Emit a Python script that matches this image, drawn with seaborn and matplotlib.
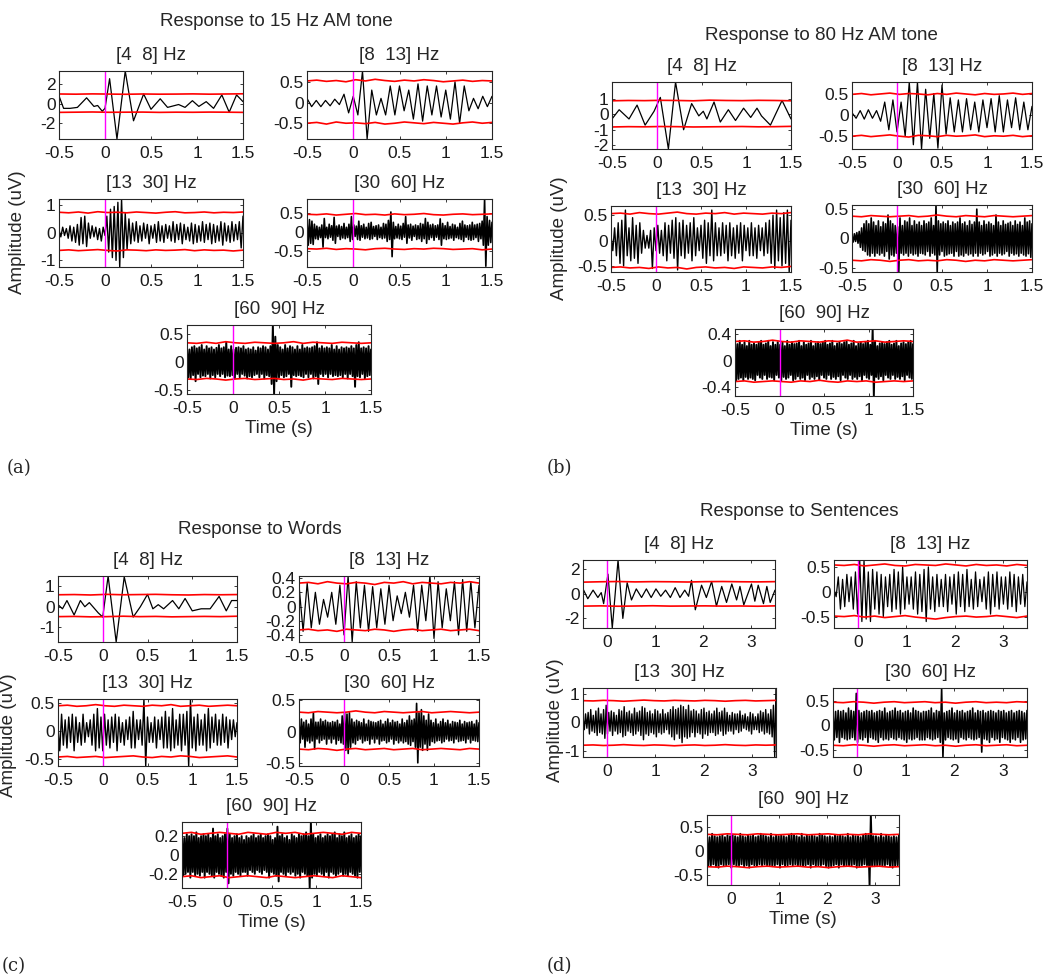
import numpy as np
import matplotlib
matplotlib.use("Agg")
import matplotlib.pyplot as plt
import seaborn as sns

# ---------------- data ----------------
# values of the uniform-step traces are in hundredths of uV
band_titles = ["[4  8] Hz", "[8  13] Hz", "[13  30] Hz", "[30  60] Hz", "[60  90] Hz"]
panel_titles = ["Response to 15 Hz AM tone", "Response to 80 Hz AM tone",
                "Response to Words", "Response to Sentences"]
panel_tags = ["(a)", "(b)", "(c)", "(d)"]

# (a) 15 Hz AM tone
a1_t = [-0.5, -0.45, -0.38, -0.3, -0.2, -0.12, -0.08, -0.03, 0.0, 0.05, 0.13, 0.22, 0.31, 0.42,
        0.5, 0.6, 0.68, 0.8, 0.87, 0.95, 1.02, 1.1, 1.18, 1.27, 1.35, 1.43, 1.5]
a1_v = [0.8, -0.5, -0.5, -0.4, 0.6, -0.3, -0.2, -0.8, -0.5, 2.6, -3.7, 3.4, -1.8, 1.0,
        -0.6, 0.5, -0.4, -0.1, -0.4, 0.3, -0.3, 0.2, -0.5, 0.9, -0.9, 0.9, 0.2]
a2_v = [10, -10, 5, -10, 5, -8, 8, -5, 20, -25, 15, -30, 76, -88, 30, -30, 10, -30, 40, -30,
        40, -20, 30, -40, 45, -45, 40, -30, 40, -35, 30, -40, 50, -50, 40, -20, 10, -15, 15, -10, 15]
a3_v = [10, -15, 20, -10, 15, -20, 25, -30, 20, -35, 30,
        -45, 55, -40, 60, -50, 35, -20, 25, -15, 20,
        -25, 15, -30, 20, -10,
        60, -70, 85, -90, 95, -100, 110, -124, 122, -90, 70, -60, 50, -40, 35,
        -30, 40, -35, 25, -30, 35, -20, 30, -40, 25, -20, 30, -35, 40, -30, 25, -35, 30, -20, 25,
        -30, 40, -35, 30, -25, 35, -40, 30, -25, 20, -30, 35, -40, 30, -35, 25, -30, 40, -35, 30,
        -25, 35, -40, 30, -35, 25, -30, 40, -45, 35, -30, 25, -35, 40, -30, 30, -25, 40, -55, 60]
a4_v = [30, -35, 32, -30, 28, -33, 20, -18, 15, -20, 12, -15, 18, -40, 35,
        -15, 12, -18, 20, -14, 16, -22, 38, -30, 15, -12, 18, -20, 14, -16,
        22, -18, 12, -15, 20, -25, 40, -20, 18, -12, 15, -20, 28, -22, 16,
        -14, 20, -18, 12, -16, 22, -20, 25, -18, 14, -12, 16, -20, 18, -15,
        12, -18, 22, -16, 20, -25, 30, -20, 52, -65, 25, -18, 14, -16, 20,
        -18, 15, -20, 22, -14, 40, -30, 18, -16, 20, -22, 15, -12, 18, -20,
        16, -18, 22, -25, 20, -18, 35, -30, 25, -20, 18, -15, 20, -22, 16,
        -14, 18, -20, 34, -35, 22, -18, 16, -20, 25, -18, 14, -16, 20, -22,
        18, -15, 12, -18, 22, -20, 28, -25, 18, -14, 16, -20, 18, -22, 25,
        -20, 18, -15, 20, -25, 22, -18, 28, -35, 86, -90, 40, -35, 30, -28, 25]
a5_v = [25, -28, 22, -30, 26, -24, 28, -35, 24, -22, 26, -28, 30, -25, 22,
        -26, 28, -22, 24, -30, 26, -24, 22, -28, 25, -22, 30, -26, 24, -22,
        26, -28, 35, -25, 22, -26, 28, -24, 22, -30, 25, -22, 26, -28, 24,
        -22, 28, -25, 22, -30, 24, -26, 22, -28, 26, -24, 20, -22, 26, -28,
        24, -22, 28, -30, 26, -24, 22, -26, 28, -40, 66, -58, 45, -35, 30,
        -28, 26, -24, 22, -28, 30, -26, 24, -22, 28, -45, 26, -24, 22, -26,
        28, -24, 22, -26, 30, -28, 24, -22, 26, -28, 24, -22, 26, -30, 28,
        -26, 35, -40, 24, -22, 28, -26, 24, -22, 26, -28, 24, -22, 30, -26,
        22, -24, 28, -26, 22, -24, 26, -28, 24, -22, 26, -30, 24, -22, 28,
        -26, 24, -45, 30, -26, 35, -28, 24, -22, 26, -30, 24, -26, 28, -24, 22]
a1_up = [100, 98, 101, 99, 97, 100, 98, 99, 101, 98, 100, 102]
a1_lo = [-92, -90, -88, -91, -90, -89, -92, -90, -91, -89, -90, -92]
a2_up = [52, 54, 51, 53, 50, 55, 52, 56, 53, 51, 54, 52, 55, 53, 50, 52, 54, 51, 53, 52]
a2_lo = [-50, -48, -52, -47, -50, -49, -51, -48, -52, -50, -47, -49, -51, -48, -50, -52, -49, -47, -50, -48]
a3_up = [74, 72, 75, 71, 76, 73, 74, 72, 75, 73, 71, 74, 76, 72, 73, 75, 72, 74, 73, 75]
a3_lo = [-64, -62, -65, -63, -61, -64, -66, -62, -63, -65, -62, -64, -63, -61, -65, -62, -64, -63, -66, -63]
a4_up = [46, 45, 47, 44, 46, 48, 45, 46, 44, 47, 45, 46, 48, 45, 44, 46, 47, 45, 46, 47]
a4_lo = [-44, -45, -43, -46, -44, -45, -47, -44, -43, -45, -46, -44, -45, -43, -44, -46, -45, -44, -47, -45]
a5_up = [34, 33, 35, 33, 36, 34, 33, 35, 34, 33, 34, 36, 33, 35, 34, 33, 35, 34, 33, 34]
a5_lo = [-31, -32, -30, -31, -33, -31, -30, -32, -31, -30, -32, -31, -33, -30, -31, -32, -30, -31, -32, -31]

# (b) 80 Hz AM tone
b1_t = [-0.5, -0.42, -0.31, -0.22, -0.13, -0.03, 0.04, 0.13, 0.21, 0.3, 0.39, 0.47, 0.52,
        0.56, 0.64, 0.71, 0.8, 0.88, 0.97, 1.05, 1.12, 1.17, 1.27, 1.4, 1.5]
b1_v = [-0.3, 0.3, -0.3, 0.6, -0.7, 0.2, 1.1, -2.25, 2.1, -1.0, 0.7, -0.1, 0.2,
        -0.3, 0.8, -0.5, 0.3, -0.4, 0.4, -0.2, 0.4, -0.1, -0.7, 0.9, -0.3]
b2_v = [5, -8, 10, -10, 12, -8, 10, -15, 30, -35, 35, -40, 30, -50, 77, -70, 77, -80, 60, -55,
        50, -78, 70, -45, 40, -40, 35, -40, 38, -35, 30, -40, 35, -30, 38, -40, 45, -40, 35, -30,
        40, -35, 30, -35, 20]
b3_v = [10, -20, 25, -30, 35, -45, 40, -50, 60, -30,
        25, -40, 45, -35, 30, -45, 35, -25, 20, -15,
        10, -15, 20, -55, 25, -20, 30, -25, 20, -30,
        35, -40, 30, -25, 40, -35, 45, -58, 35, -30,
        40, -35, 30, -25, 35, -40, 45, -30, 25, -20,
        30, -35, 40, -45, 35, -30, 60, -40, 35, -30,
        25, -30, 35, -25, 30, -40, 35, -30, 25, -35,
        30, -25, 35, -40, 30, -20, 25, -30, 35, -30,
        25, -35, 30, -20, 25, -30, 35, -25, 40, -45,
        50, -55, 60, -40, 45, -50, 55, -45, 60, -62, 40]
b4_v = [5, -6, 8, -5, 10, -8, 12, -15, 18, -20, 25, -22, 30, -28, 25,
        -30, 35, -25, 28, -30, 22, -25, 30, -28, 20, -25, 28, -30, 25, -22,
        40, -35, 30, -28, 25, -30, 22, -25, 20, -57, 35, -25, 22, -28, 30,
        -25, 28, -30, 35, -25, 22, -28, 30, -26, 24, -30, 28, -25, 22, -26,
        30, -28, 25, -22, 28, -30, 35, -25, 22, -28, 57, -57, 30, -28, 25,
        -22, 28, -30, 25, -28, 30, -26, 22, -25, 28, -30, 25, -22, 28, -30,
        35, -28, 25, -30, 28, -25, 22, -28, 30, -26, 24, -30, 28, -25, 50,
        -30, 28, -25, 22, -28, 30, -26, 24, -22, 28, -30, 25, -28, 22, -25,
        40, -30, 28, -25, 22, -28, 30, -26, 24, -22, 26, -30, 28, -25, 22,
        -28, 30, -26, 24, -30, 28, -25, 22, -28, 35, -30, 28, -26, 30, -32, 25]
b5_v = [28, -30, 25, -28, 30, -26, 24, -30, 28, -25, 22, -28, 30, -26, 24,
        -28, 26, -30, 24, -22, 28, -26, 30, -28, 24, -22, 26, -28, 30, -25,
        22, -26, 28, -30, 24, -22, 28, -26, 24, -30, 28, -25, 22, -28, 30,
        -26, 24, -22, 28, -30, 25, -28, 26, -24, 30, -28, 22, -26, 28, -30,
        24, -22, 26, -28, 30, -25, 22, -28, 26, -24, 28, -30, 25, -22, 28,
        -26, 30, -28, 24, -22, 26, -28, 30, -25, 22, -28, 26, -24, 28, -30,
        25, -22, 28, -26, 30, -28, 24, -22, 26, -28, 30, -25, 22, -28, 26,
        -24, 28, -30, 25, -22, 28, -26, 30, -28, 24, -22, 48, -54, 30, -25,
        22, -28, 26, -24, 28, -30, 25, -22, 28, -26, 30, -28, 24, -22, 26,
        -28, 30, -25, 22, -28, 26, -24, 28, -30, 25, -22, 28, -26, 30, -28, 25]
b1_up = [88, 90, 89, 91, 90, 88, 92, 90, 89, 91, 90, 88]
b1_lo = [-82, -80, -81, -79, -80, -82, -81, -80, -79, -81, -80, -78]
b2_up = [48, 50, 47, 49, 51, 48, 50, 49, 47, 50, 48, 51, 49, 47, 50, 48, 49, 51, 48, 50]
b2_lo = [-50, -48, -51, -49, -47, -50, -52, -48, -49, -51, -48, -50, -49, -47, -51, -49, -50, -48, -51, -49]
b3_up = [53, 54, 52, 55, 53, 52, 54, 56, 53, 52, 54, 53, 55, 52, 54, 53, 52, 54, 53, 55]
b3_lo = [-53, -52, -54, -53, -55, -52, -54, -53, -56, -53, -52, -54, -53, -55, -52, -53, -54, -52, -53, -51]
b4_up = [38, 37, 39, 38, 37, 38, 39, 37, 38, 40, 38, 37, 39, 38, 37, 39, 38, 37, 38, 39]
b4_lo = [-37, -38, -36, -37, -39, -37, -36, -38, -37, -38, -36, -37, -39, -37, -38, -36, -37, -38, -37, -36]
b5_up = [29, 30, 28, 29, 31, 29, 28, 30, 29, 28, 30, 29, 31, 28, 29, 30, 28, 29, 30, 29]
b5_lo = [-32, -31, -33, -32, -31, -32, -33, -31, -32, -30, -32, -33, -31, -32, -31, -33, -32, -31, -32, -31]

# (c) Words
c1_t = [-0.5, -0.45, -0.4, -0.32, -0.25, -0.2, -0.15, -0.05, 0.0, 0.06, 0.15, 0.24, 0.34, 0.42,
        0.5, 0.56, 0.62, 0.68, 0.78, 0.85, 0.92, 1.0, 1.1, 1.2, 1.3, 1.38, 1.44, 1.5]
c1_v = [0.1, -0.1, 0.3, -0.4, 0.3, 0.0, 0.2, -0.3, -0.5, 1.49, -1.71, 1.45, -0.5, 0.0,
        0.6, -0.1, 0.1, -0.1, 0.3, -0.1, 0.4, -0.2, -0.1, -0.1, 0.5, -0.2, 0.3, 0.3]
c2_v = [30, -35, 33, -30, 20, -25, 10, -15, 20, -25, 30, -40, 43, -50, 35, -30, 30, -35, 28, -30,
        25, -25, 30, -20, 15, -10, 20, -15, 30, -35, 30, -20, 43, -45, 35, -30, 25, -20, 35, -40,
        38, -35, 35, -30, 30]
c3_v = [10, -35, 30, -25, 20, -30, 25, -20, 30, -35,
        25, -20, 15, -25, 30, -20, 15, -10, 20, -25,
        30, -35, 40, -30, 25, -35, 30, -25, 20, -30,
        25, -20, 30, -35, 25, -20, 15, -25, 20, -15,
        25, -30, 35, -30, 20, -15, 20, -25, 57, -62,
        25, -20, 15, -20, 25, -30, 20, -15, 25, -30,
        35, -30, 25, -35, 40, -30, 20, -25, 30, -35,
        30, -25, 35, -62, 57, -30, 25, -35, 30, -25,
        20, -25, 30, -35, 40, -30, 25, -20, 30, -25,
        20, -25, 30, -20, 25, -30, 20, -15, 20, -10, 15]
c4_v = [15, -18, 20, -12, 15, -25, 18, -15, 12, -18, 20, -15, 30, -28, 15,
        -12, 15, -18, 20, -14, 16, -12, 18, -20, 15, -12, 14, -18, 16, -12,
        15, -20, 18, -14, 12, -18, 25, -20, 30, -30, 28, -35, 30, -25, 20,
        -18, 15, -20, 18, -14, 16, -12, 14, -18, 20, -15, 12, -14, 18, -20,
        16, -12, 15, -18, 14, -12, 16, -20, 18, -15, 12, -14, 16, -18, 20,
        -16, 14, -12, 18, -20, 15, -14, 16, -18, 12, -15, 20, -18, 14, -16,
        18, -20, 25, -22, 18, -16, 20, -25, 45, -50, 30, -25, 35, -30, 25,
        -20, 18, -30, 28, -22, 18, -16, 14, -18, 20, -15, 12, -14, 16, -18,
        20, -16, 14, -12, 18, -15, 12, -14, 16, -18, 15, -12, 14, -16, 18,
        -15, 12, -14, 16, -18, 14, -12, 15, -18, 16, -14, 12, -15, 18, -16, 14]
c5_v = [20, -22, 18, -20, 22, -18, 20, -24, 22, -18, 20, -22, 24, -20, 18,
        -22, 20, -18, 22, -24, 20, -18, 22, -20, 18, -22, 28, -24, 20, -18,
        22, -20, 18, -22, 20, -24, 22, -18, 28, -30, 22, -20, 18, -22, 20,
        -18, 22, -20, 18, -22, 20, -18, 16, -18, 20, -22, 18, -16, 20, -18,
        22, -20, 18, -16, 20, -18, 22, -20, 18, -16, 20, -18, 22, -24, 20,
        -18, 16, -20, 18, -22, 30, -28, 20, -18, 22, -20, 18, -22, 20, -18,
        16, -20, 22, -18, 20, -22, 18, -20, 22, -24, 20, -18, 22, -20, 24,
        -22, 20, -35, 35, -24, 22, -20, 18, -22, 20, -18, 22, -20, 18, -22,
        20, -18, 22, -24, 20, -18, 22, -20, 24, -22, 18, -20, 22, -18, 20,
        -22, 24, -20, 18, -22, 20, -18, 22, -20, 18, -22, 20, -24, 22, -18, 20]
c1_up = [58, 59, 57, 60, 58, 59, 60, 58, 57, 59, 58, 59]
c1_lo = [-48, -47, -49, -48, -46, -48, -47, -49, -48, -47, -48, -46]
c2_up = [33, 34, 32, 35, 33, 32, 34, 33, 31, 34, 33, 35, 32, 34, 33, 32, 34, 33, 35, 33]
c2_lo = [-33, -32, -34, -33, -35, -32, -33, -34, -32, -33, -35, -33, -32, -34, -33, -32, -34, -33, -32, -34]
c3_up = [45, 46, 44, 45, 47, 45, 44, 46, 45, 44, 46, 45, 47, 44, 45, 46, 44, 45, 46, 45]
c3_lo = [-46, -45, -47, -46, -45, -47, -46, -45, -44, -46, -47, -45, -46, -44, -45, -47, -46, -45, -44, -46]
c4_up = [31, 30, 32, 31, 30, 31, 33, 31, 30, 32, 31, 30, 31, 32, 30, 31, 32, 31, 30, 31]
c4_lo = [-28, -29, -27, -28, -30, -28, -27, -29, -28, -27, -29, -28, -27, -29, -28, -27, -28, -29, -27, -28]
c5_up = [23, 24, 22, 23, 24, 23, 22, 24, 23, 22, 24, 23, 24, 22, 23, 24, 23, 22, 24, 23]
c5_lo = [-23, -22, -24, -23, -22, -24, -23, -22, -23, -24, -22, -23, -24, -23, -22, -23, -24, -22, -23, -24]

# (d) Sentences
d1_t = [-0.5, -0.4, -0.29, -0.19, -0.12, -0.07, 0.02, 0.11, 0.23, 0.33, 0.42, 0.51, 0.61, 0.72,
        0.82, 0.92, 1.02, 1.12, 1.22, 1.32, 1.42, 1.52, 1.62, 1.7, 1.76, 1.84, 1.97, 2.07, 2.18,
        2.28, 2.39, 2.49, 2.6, 2.7, 2.77, 2.85, 3.01, 3.08, 3.15, 3.26, 3.33, 3.4, 3.5]
d1_v = [0.4, -0.4, 0.3, -0.3, 0.1, -0.8, 1.6, -2.78, 2.75, -2.0, 0.9, -0.5, 0.4, -0.3,
        0.4, -0.3, 0.4, -0.2, 0.3, -0.3, 0.5, -0.3, 0.3, -0.2, 1.1, -1.3, 0.7, -0.3, 1.0,
        -1.0, 0.6, -0.7, 0.8, -0.5, 0.6, -0.9, 0.8, -0.6, 0.7, -0.8, 0.6, -0.7, 0.3]
d2_v = [5, -10, 30, -35, 25, -30, 35, -20, 30, -35,
        40, -45, 64, -60, 64, -55, 40, -60, 45, -35,
        40, -45, 35, -50, 30, -30, 35, -40, 45, -35,
        40, -45, 50, -35, 30, -25, 30, -35, 40, -45,
        35, -40, 45, -60, 50, -35, 30, -40, 35, -30,
        25, -30, 35, -40, 30, -25, 35, -45, 40, -30,
        35, -40, 45, -30, 25, -35, 40, -30, 25, -20,
        30, -35, 40, -45, 35, -30, 40, -35, 30, -25,
        30, -35, 40, -30, 35, -40, 30, -25, 35, -30, 20]
d3_v = [20, -25, 30, -20, 35, -40, 45, -30, 25, -35, 40, -45, 50, -35, 30,
        -40, 45, -55, 60, -40, 35, -30, 40, -45, 35, -30, 25, -40, 45, -35,
        40, -50, 55, -45, 35, -30, 40, -35, 30, -45, 50, -40, 35, -30, 40,
        -45, 55, -60, 50, -40, 35, -45, 40, -35, 30, -40, 45, -50, 40, -35,
        30, -40, 45, -35, 30, -25, 35, -40, 45, -50, 55, -60, 45, -40, 50,
        -55, 60, -70, 55, -50, 45, -55, 60, -50, 40, -35, 45, -50, 40, -35,
        30, -40, 45, -55, 50, -40, 35, -45, 40, -35, 30, -35, 40, -45, 50,
        -40, 35, -30, 40, -45, 50, -40, 35, -30, 25, -30, 35, -40, 30, -25,
        30, -35, 40, -30, 25, -20, 30, -25, 20, -30, 35, -40, 30, -25, 20,
        -25, 30, -35, 40, -30, 35, -40, 45, -35, 30, -40, 45, -50, 60, -120, 120]
d4_v = [25, -30, 28, -25, 30, -35, 28, -25, 30, -28, 25, -30, 35, -28, 30,
        -25, 28, -30, 65, -35, 30, -28, 25, -30, 28, -25, 30, -35, 28, -25,
        30, -28, 25, -30, 28, -35, 30, -25, 28, -30, 35, -28, 25, -30, 28,
        -25, 30, -28, 35, -30, 28, -25, 30, -28, 25, -30, 28, -35, 30, -28,
        25, -30, 35, -28, 30, -25, 28, -30, 25, -30, 28, -30, 28, -25, 30,
        -28, 35, -30, 25, -28, 30, -25, 28, -35, 76, -65, 25, -30, 28, -25,
        30, -28, 35, -30, 25, -28, 30, -35, 28, -25, 30, -28, 25, -30, 28,
        -25, 30, -28, 35, -30, 25, -28, 30, -25, 28, -55, 30, -28, 25, -30,
        28, -35, 30, -25, 28, -30, 25, -28, 30, -35, 28, -25, 30, -28, 25,
        -30, 28, -35, 30, -28, 25, -30, 28, -25, 30, -35, 28, -30, 25, -28, 30]
d5_v = [30, -32, 28, -30, 35, -28, 30, -32, 28, -35, 30, -28, 32, -30, 28,
        -30, 32, -28, 30, -35, 32, -28, 30, -32, 28, -30, 35, -28, 30, -32,
        28, -30, 32, -35, 30, -28, 32, -30, 28, -32, 30, -28, 35, -30, 32,
        -28, 30, -32, 28, -30, 35, -32, 28, -30, 32, -28, 30, -35, 32, -28,
        30, -32, 28, -30, 32, -28, 35, -30, 32, -28, 30, -32, 28, -30, 35,
        -32, 28, -30, 32, -28, 30, -35, 32, -28, 30, -32, 28, -30, 35, -30,
        32, -28, 30, -32, 28, -35, 30, -32, 28, -30, 32, -28, 30, -35, 32,
        -28, 30, -32, 28, -30, 35, -32, 28, -30, 32, -28, 30, -35, 30, -32,
        28, -30, 32, -28, 35, -30, 32, -71, 74, -32, 30, -32, 30, -32, 28,
        -30, 35, -32, 28, -30, 32, -28, 30, -32, 28, -35, 30, -32, 28, -30, 32]
d1_up = [95, 98, 100, 97, 99, 98, 96, 99, 100, 98, 97, 99]
d1_lo = [-100, -98, -101, -99, -97, -100, -99, -98, -100, -99, -101, -98]
d2_up = [54, 53, 55, 52, 54, 56, 53, 52, 55, 54, 53, 56, 54, 52, 55, 53, 54, 52, 55, 53]
d2_lo = [-49, -50, -48, -51, -49, -52, -50, -48, -51, -53, -55, -52, -50, -49, -51, -50, -48, -50, -52, -49]
d3_up = [76, 75, 77, 76, 74, 76, 78, 76, 75, 77, 76, 75, 77, 76, 74, 76, 77, 75, 76, 77]
d3_lo = [-79, -78, -80, -79, -77, -79, -80, -78, -79, -81, -79, -78, -80, -79, -77, -79, -80, -78, -79, -78]
d4_up = [47, 46, 48, 47, 45, 47, 48, 46, 47, 48, 46, 47, 45, 47, 48, 46, 47, 46, 48, 47]
d4_lo = [-41, -42, -40, -41, -43, -41, -40, -42, -41, -40, -42, -41, -43, -41, -40, -42, -41, -40, -42, -41]
d5_up = [34, 33, 35, 34, 33, 35, 34, 33, 34, 35, 33, 34, 35, 33, 34, 33, 35, 34, 33, 34]
d5_lo = [-33, -34, -32, -33, -35, -33, -32, -34, -33, -32, -34, -33, -35, -33, -32, -34, -33, -32, -34, -33]

# ---------------- figure ----------------
W, H = 1047, 977
sns.set_theme(style="ticks")
plt.rcParams["font.family"] = ["Liberation Sans", "DejaVu Sans"]
plt.rcParams.update({
    "axes.linewidth": 0.8, "axes.edgecolor": "#262626",
    "xtick.direction": "in", "ytick.direction": "in",
    "xtick.major.size": 2.5, "ytick.major.size": 2.5,
    "xtick.major.width": 0.6, "ytick.major.width": 0.6,
    "xtick.top": True, "ytick.right": True,
    "xtick.labelsize": 12.5, "ytick.labelsize": 12.5,
    "xtick.major.pad": 5.0, "ytick.major.pad": 2.5,
    "xtick.color": "#1a1a1a", "ytick.color": "#1a1a1a",
})
fig = plt.figure(figsize=(W / 100, H / 100), dpi=100)
FS = 13.5
LW = [0.9, 0.9, 1.0, 1.2, 1.4]


def add_ax(l, t, r, b):
    return fig.add_axes([l / W, 1 - b / H, (r - l) / W, (b - t) / H])


def hund(vals):
    return np.asarray(vals, dtype=float) / 100.0


XA = (-0.5, 1.5)
XD = (-0.5, 3.5)
XT_A = [-0.5, 0, 0.5, 1, 1.5]
XT_D = [0, 1, 2, 3]

subplots = [
    # panel a
    ((59, 71, 243, 139), a1_t, a1_v, a1_up, a1_lo, XA, (-3.7, 3.4), [-2, 0, 2], 0),
    ((307, 71, 492, 139), None, hund(a2_v), a2_up, a2_lo, XA, (-0.88, 0.76), [-0.5, 0, 0.5], 1),
    ((59, 199, 243, 267), None, hund(a3_v), a3_up, a3_lo, XA, (-1.24, 1.22), [-1, 0, 1], 2),
    ((307, 199, 492, 267), None, hund(a4_v), a4_up, a4_lo, XA, (-0.92, 0.86), [-0.5, 0, 0.5], 3),
    ((187, 325, 371, 394), None, hund(a5_v), a5_up, a5_lo, XA, (-0.58, 0.66), [-0.5, 0, 0.5], 4),
    # panel b
    ((612, 82, 791, 149), b1_t, b1_v, b1_up, b1_lo, XA, (-2.25, 2.1), [-2, -1, 0, 1], 0),
    ((852, 82, 1032, 149), None, hund(b2_v), b2_up, b2_lo, XA, (-0.8, 0.77), [-0.5, 0, 0.5], 1),
    ((611, 206, 791, 272), None, hund(b3_v), b3_up, b3_lo, XA, (-0.62, 0.68), [-0.5, 0, 0.5], 2),
    ((852, 205, 1032, 272), None, hund(b4_v), b4_up, b4_lo, XA, (-0.57, 0.57), [-0.5, 0, 0.5], 3),
    ((735, 329, 913, 396), None, hund(b5_v), b5_up, b5_lo, XA, (-0.54, 0.48), [-0.4, 0, 0.4], 4),
    # panel c
    ((58, 576, 237, 642), c1_t, c1_v, c1_up, c1_lo, XA, (-1.71, 1.49), [-1, 0, 1], 0),
    ((299, 576, 479, 642), None, hund(c2_v), c2_up, c2_lo, XA, (-0.5, 0.43), [-0.4, -0.2, 0, 0.2, 0.4], 1),
    ((58, 699, 237, 766), None, hund(c3_v), c3_up, c3_lo, XA, (-0.62, 0.57), [-0.5, 0, 0.5], 2),
    ((299, 699, 479, 766), None, hund(c4_v), c4_up, c4_lo, XA, (-0.55, 0.52), [-0.5, 0, 0.5], 3),
    ((182, 822, 361, 888), None, hund(c5_v), c5_up, c5_lo, XA, (-0.35, 0.35), [-0.2, 0, 0.2], 4),
    # panel d
    ((583, 560, 775, 628), d1_t, d1_v, d1_up, d1_lo, XD, (-2.78, 2.75), [-2, 0, 2], 0),
    ((834, 560, 1027, 628), None, hund(d2_v), d2_up, d2_lo, XD, (-0.73, 0.64), [-0.5, 0, 0.5], 1),
    ((583, 688, 776, 757), None, hund(d3_v), d3_up, d3_lo, XD, (-1.2, 1.2), [-1, 0, 1], 2),
    ((833, 688, 1027, 757), None, hund(d4_v), d4_up, d4_lo, XD, (-0.65, 0.76), [-0.5, 0, 0.5], 3),
    ((707, 815, 899, 885), None, hund(d5_v), d5_up, d5_lo, XD, (-0.71, 0.74), [-0.5, 0, 0.5], 4),
]

for box, t, v, up, lo, xlim, ylim, yt, band in subplots:
    ax = add_ax(*box)
    v = np.asarray(v, dtype=float)
    tt = np.linspace(xlim[0], xlim[1], len(v)) if t is None else np.asarray(t, dtype=float)
    sns.lineplot(x=tt, y=v, ax=ax, color="black", lw=LW[band], estimator=None, sort=False)
    for red in (up, lo):
        r = hund(red)
        tr = np.linspace(xlim[0], xlim[1], len(r))
        sns.lineplot(x=tr, y=r, ax=ax, color="#ff0000", lw=1.2, estimator=None, sort=False)
    ax.axvline(0, color="#ff00ff", lw=1.0)
    ax.set_xlim(*xlim)
    ax.set_ylim(*ylim)
    xt = XT_A if xlim == XA else XT_D
    ax.set_xticks(xt)
    ax.set_xticklabels([f"{x:g}" for x in xt])
    ax.set_yticks(yt)
    ax.set_yticklabels([f"{y:g}" for y in yt])
    ax.set_title(band_titles[band], fontsize=FS, pad=8)
    ax.set_xlabel("Time (s)" if band == 4 else "", fontsize=FS, labelpad=3)
    ax.set_ylabel("")
    ax.set_facecolor("white")


def ftext(x, y, s, **kw):
    fig.text(x / W, 1 - y / H, s, ha="center", va="center", **kw)


for (x, y), s in zip([(276, 22), (821, 35), (260, 529), (799, 512)], panel_titles):
    ftext(x, y, s, fontsize=FS)
for (x, y) in [(18, 232), (559, 238), (9, 735), (556, 720)]:
    ftext(x, y, "Amplitude (uV)", fontsize=FS, rotation=90)
for (x, y), s in zip([(19, 468), (559, 468), (14, 966), (559, 966)], panel_tags):
    ftext(x, y, s, fontsize=13, family="DejaVu Serif")

fig.savefig("out.png", dpi=100)
